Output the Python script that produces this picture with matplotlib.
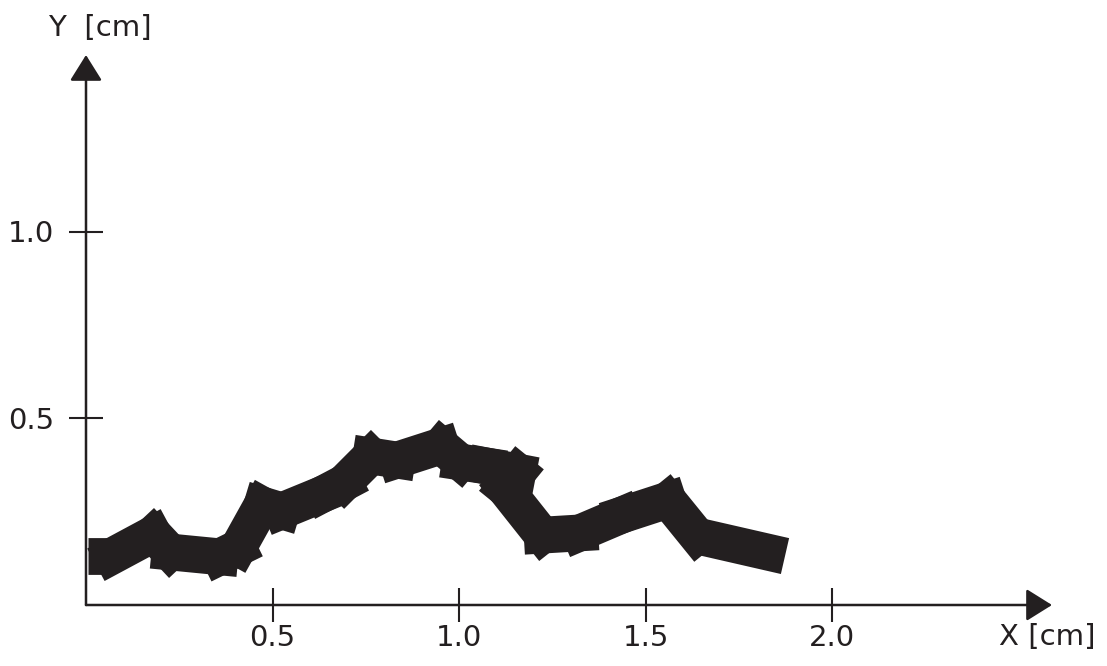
import matplotlib
matplotlib.use("Agg")
import matplotlib.pyplot as plt
from matplotlib.collections import LineCollection
import numpy as np

# Trace of the thick band (x, y in cm)
trace_x = [0.005, 0.070, 0.180, 0.225, 0.359, 0.408, 0.472, 0.525, 0.635, 0.692,
           0.764, 0.834, 0.952, 1.003, 1.075, 1.158, 1.123, 1.223, 1.324, 1.437,
           1.560, 1.638, 1.874]
trace_y = [0.131, 0.131, 0.190, 0.142, 0.129, 0.153, 0.268, 0.252, 0.297, 0.327,
           0.399, 0.388, 0.426, 0.383, 0.372, 0.356, 0.313, 0.187, 0.193, 0.241,
           0.281, 0.185, 0.131]

x_ticks = [0.5, 1.0, 1.5, 2.0]
x_tick_labels = ["0.5", "1.0", "1.5", "2.0"]
y_ticks = [0.5, 1.0]
y_tick_labels = ["0.5", "1.0"]
x_label = "X [cm]"
y_label = "Y  [cm]"

INK = "#231f20"
W, H = 1107, 666
fig = plt.figure(figsize=(W / 100, H / 100), dpi=100)
ax = fig.add_axes([86 / W, (H - 605) / H, 966 / W, 550 / H])
ax.set_xlim(0, 966 / 373.0)
ax.set_ylim(0, 550 / 373.5)
for s in ax.spines.values():
    s.set_visible(False)

# Axes with arrow heads
arrow_kw = dict(arrowstyle="-|>,head_length=0.8,head_width=0.5", color=INK,
                lw=1.8, mutation_scale=20, shrinkA=0, shrinkB=0)
xmax = ax.get_xlim()[1]
ymax = ax.get_ylim()[1]
ax.annotate("", xy=(xmax, 0), xytext=(0, 0), arrowprops=arrow_kw,
            annotation_clip=False)
ax.annotate("", xy=(0, ymax), xytext=(0, 0), arrowprops=arrow_kw,
            annotation_clip=False)

# Thick band: each segment drawn separately; inner segments overlap at joints
pts = np.column_stack([trace_x, trace_y])
segs = [pts[i:i + 2] for i in range(len(pts) - 1)]
BAND_LW = 26.5
inner = LineCollection(segs[1:-1], colors=INK, linewidths=BAND_LW,
                       capstyle="projecting", zorder=3)
ends = LineCollection([segs[0], segs[-1]], colors=INK, linewidths=BAND_LW,
                      capstyle="butt", zorder=3)
ax.add_collection(inner)
ax.add_collection(ends)

# Ticks
ax.set_xticks(x_ticks)
ax.set_xticklabels(x_tick_labels)
ax.set_yticks(y_ticks)
ax.set_yticklabels(y_tick_labels)
ax.tick_params(axis="x", direction="inout", length=24, width=1.5, color=INK,
               labelsize=21, labelcolor=INK, pad=2)
ax.tick_params(axis="y", direction="inout", length=24, width=1.5, color=INK,
               labelsize=21, labelcolor=INK, pad=11)

# Axis titles
fig.text(100 / W, 1 - 28 / H, y_label, ha="center", va="center",
         fontsize=21, color=INK)
fig.text(1047 / W, 1 - 637 / H, x_label, ha="center", va="center",
         fontsize=21, color=INK)

fig.savefig("out.png", dpi=100)
